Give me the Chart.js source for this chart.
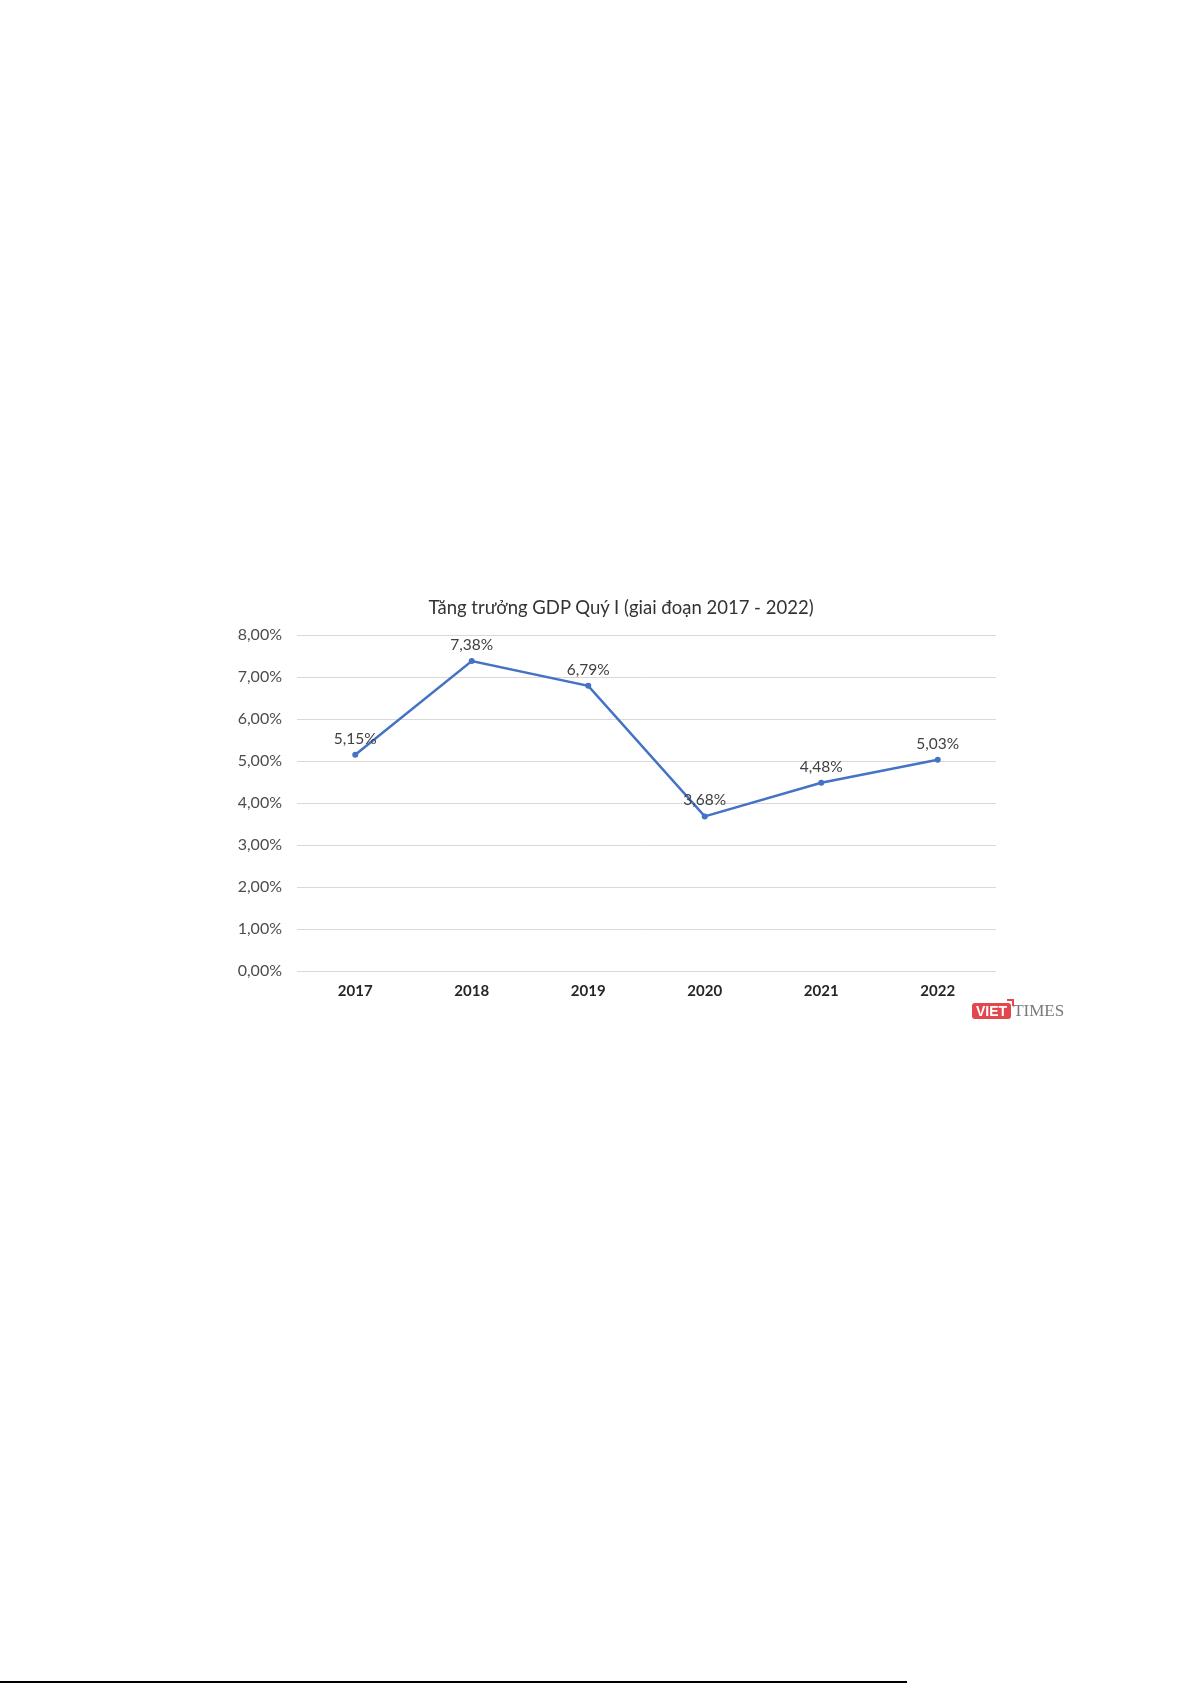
<!DOCTYPE html>
<html lang="vi">
<head>
    <meta charset="UTF-8">
    <meta name="viewport" content="width=device-width, initial-scale=1.0">
    <script src="https://cdn.jsdelivr.net/npm/chart.js@4.4.1/dist/chart.umd.min.js"></script>
    <title>Tăng trưởng GDP Quý I</title>
    <style>
        html, body { margin: 0; padding: 0; background: #fff; }
        body { width: 1192px; height: 1684px; position: relative; overflow: hidden; }
        #wrap { position: absolute; left: 220px; top: 590px; width: 800px; height: 430px; }
        /* title sits a little right of the canvas centre in the source */
        #title {
            position: absolute; left: 220px; top: 596px; width: 802px; text-align: center;
            font: 18.5px Lato, "Open Sans", sans-serif; line-height: 22px; color: #333;
        }
        /* VietTimes logo under the chart */
        .logo { position: absolute; left: 972px; top: 1001px; height: 18px; white-space: nowrap; }
        .logo .viet {
            display: inline-block; background: #e2474d; color: #fff;
            font: bold 14px "Liberation Sans", Arial, sans-serif; line-height: 16px;
            padding: 0 4px; border-radius: 3px; vertical-align: middle; position: relative;
        }
        .logo .viet:after {
            content: ""; position: absolute; right: -3px; top: -4px; width: 5px; height: 5px;
            border-top: 2px solid #e2474d; border-right: 2px solid #e2474d;
        }
        .logo .times {
            font: 17px "Liberation Serif", serif; color: #7a7a7a; vertical-align: middle; margin-left: 2px;
        }
        .rule { position: absolute; left: 0; top: 1681px; width: 907px; height: 2px; background: #000; }
    </style>
</head>
<body>

    <div id="wrap"><canvas id="chart"></canvas></div>
    <div id="title"></div>
    <div class="logo"><span class="viet">VIET</span><span class="times">TIMES</span></div>
    <div class="rule"></div>

    <script>
        // data
        const years = ['2017', '2018', '2019', '2020', '2021', '2022'];
        const gdpGrowth = [5.15, 7.38, 6.79, 3.68, 4.48, 5.03];
        const chartTitle = 'Tăng trưởng GDP Quý I (giai đoạn 2017 - 2022)';

        const blue = '#4472c4';
        const fontName = 'Lato, "Open Sans", sans-serif';

        document.getElementById('title').textContent = chartTitle;

        // comma decimals, like the source
        function pct(v) {
            return v.toFixed(2).replace('.', ',') + '%';
        }

        // value labels above each point
        const valueLabels = {
            id: 'valueLabels',
            afterDatasetsDraw(chart) {
                const ctx = chart.ctx;
                const meta = chart.getDatasetMeta(0);
                ctx.save();
                ctx.font = '15.5px ' + fontName;
                ctx.fillStyle = '#404040';
                ctx.textAlign = 'center';
                ctx.textBaseline = 'middle';
                meta.data.forEach((pt, i) => {
                    ctx.fillText(pct(gdpGrowth[i]), pt.x, pt.y - 16);
                });
                ctx.restore();
            }
        };

        const ctx = document.getElementById('chart').getContext('2d');
        const myChart = new Chart(ctx, {
            type: 'line',
            data: {
                labels: years,
                datasets: [{
                    label: 'GDP',
                    data: gdpGrowth,
                    borderColor: blue,
                    backgroundColor: blue,
                    borderWidth: 2.5,
                    tension: 0,
                    pointRadius: 3,
                    pointBackgroundColor: blue,
                    pointBorderWidth: 0
                }]
            },
            options: {
                responsive: true,
                maintainAspectRatio: false,
                animation: false,
                layout: { padding: { left: 0, right: 24, top: 45, bottom: 9 } },
                plugins: {
                    legend: { display: false },
                    tooltip: { enabled: false },
                    title: { display: false }
                },
                scales: {
                    x: {
                        offset: true,
                        grid: { display: false, drawTicks: false },
                        border: { display: false },
                        ticks: {
                            color: '#262626',
                            padding: 11,
                            font: { family: fontName, size: 15, weight: 'bold' }
                        },
                        afterFit(scale) { scale.height = 40; }
                    },
                    y: {
                        min: 0,
                        max: 8,
                        grid: { color: '#d9d9d9', lineWidth: 1, drawTicks: false },
                        border: { display: false },
                        ticks: {
                            stepSize: 1,
                            color: '#4d4d4d',
                            padding: 15,
                            font: { family: fontName, size: 16 },
                            callback: v => pct(v)
                        },
                        afterFit(scale) { scale.width = 77; }
                    }
                }
            },
            plugins: [valueLabels]
        });
    </script>
</body>
</html>
